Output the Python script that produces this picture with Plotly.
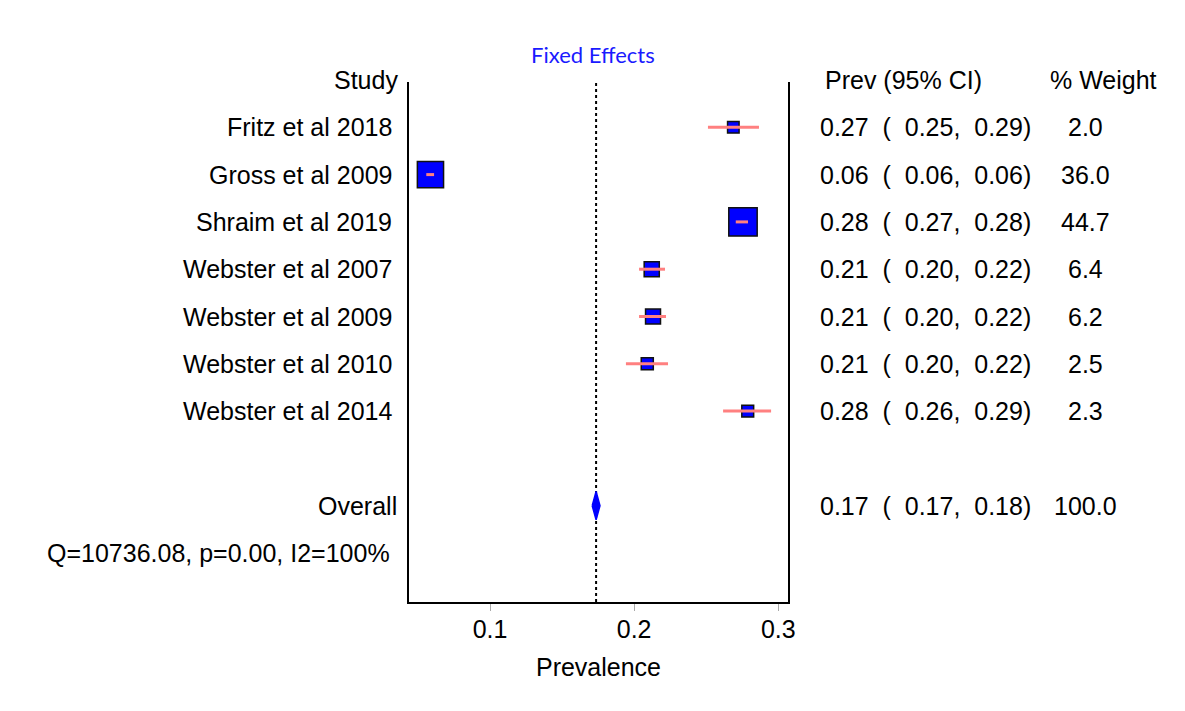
import plotly.graph_objects as go

# ---------------- data ----------------
studies = ["Fritz et al 2018", "Gross et al 2009", "Shraim et al 2019",
           "Webster et al 2007", "Webster et al 2009", "Webster et al 2010",
           "Webster et al 2014"]
prev = [0.2688, 0.0587, 0.2755, 0.2122, 0.2131, 0.2091, 0.2788]
ci_low = [0.2512, 0.0558, 0.2705, 0.2034, 0.2034, 0.1943, 0.2617]
ci_high = [0.2866, 0.0612, 0.2790, 0.2214, 0.2221, 0.2235, 0.2950]
weights = [2.0, 36.0, 44.7, 6.4, 6.2, 2.5, 2.3]

prev_text = ["0.27", "0.06", "0.28", "0.21", "0.21", "0.21", "0.28"]
low_text = ["0.25", "0.06", "0.27", "0.20", "0.20", "0.20", "0.26"]
high_text = ["0.29", "0.06", "0.28", "0.22", "0.22", "0.22", "0.29"]
weight_text = ["2.0", "36.0", "44.7", "6.4", "6.2", "2.5", "2.3"]

overall_prev = 0.1736
overall_low = 0.1709
overall_high = 0.1763
overall_texts = ["0.17", "0.17", "0.18"]
overall_weight_text = "100.0"
het_text = "Q=10736.08, p=0.00, I2=100%"

x_ticks = [0.1, 0.2, 0.3]
x_tick_labels = ["0.1", "0.2", "0.3"]

# ---------------- layout geometry ----------------
OFF = 8                      # page body margin
W, H = 1185 - 2 * OFF, 711 - 2 * OFF
L, R, T, B = 409, 788, 82, 602   # plot area in screen pixels
FONT = "Liberation Sans, Arial, sans-serif"
FS = 25
NB = "\u00a0"

def px(xpix):
    return (xpix - L) / (R - L)

def py(ypix):
    return (B - ypix) / (B - T)

row_px0, row_step = 80, 47.3
def rowpix(r):
    return row_px0 + row_step * r

rows = list(range(1, len(studies) + 1))
overall_row = len(studies) + 2
het_row = overall_row + 1

fig = go.Figure()

# study markers (size from weight)
sizes = [7 + 3.2 * (w ** 0.5) for w in weights]
fig.add_trace(go.Scatter(
    x=prev, y=rows, mode="markers",
    marker=dict(symbol="square", size=sizes, color="#0000FF", opacity=1,
                line=dict(color="#111111", width=1.5)),
    hoverinfo="skip", showlegend=False))

# confidence intervals (drawn on top of markers)
cx, cy = [], []
for lo, hi, r in zip(ci_low, ci_high, rows):
    cx += [lo, hi, None]
    cy += [r, r, None]
fig.add_trace(go.Scatter(
    x=cx, y=cy, mode="lines",
    line=dict(color="#FF8080", width=3),
    hoverinfo="skip", showlegend=False))

# overall diamond
h = 0.30
fig.add_trace(go.Scatter(
    x=[overall_low, overall_prev, overall_high, overall_prev, overall_low],
    y=[overall_row, overall_row - h, overall_row, overall_row + h, overall_row],
    mode="lines", fill="toself", fillcolor="#0000FF",
    line=dict(color="#0000FF", width=1.5),
    hoverinfo="skip", showlegend=False))

# pooled estimate dotted line
fig.add_shape(type="line", x0=overall_prev, x1=overall_prev, xref="x",
              y0=0, y1=1, yref="paper", layer="below",
              line=dict(color="black", width=2, dash="dot"))

ann = []
def text(xpix, ypix, s, anchor="left", size=FS, color="black", family=FONT):
    ann.append(dict(x=px(xpix), y=py(ypix), xref="paper", yref="paper", text=s,
                    showarrow=False, xanchor=anchor, yanchor="middle",
                    font=dict(family=family, size=size, color=color)))

text(400, rowpix(0), "Study", "right")
text(823, rowpix(0), "Prev (95% CI)")
text(1048, rowpix(0), "% Weight")
for i, r in enumerate(rows):
    text(394, rowpix(r), studies[i], "right")
    s = f"{prev_text[i]}{NB*2}({NB*2}{low_text[i]},{NB*2}{high_text[i]})"
    text(818, rowpix(r), s)
    text(1085, rowpix(r), weight_text[i], "center")
text(399, rowpix(overall_row), "Overall", "right")
s = f"{overall_texts[0]}{NB*2}({NB*2}{overall_texts[1]},{NB*2}{overall_texts[2]})"
text(818, rowpix(overall_row), s)
text(1085, rowpix(overall_row), overall_weight_text, "center")
text(45, rowpix(het_row), het_text)
text(592.5, 55, "Fixed Effects", "center", size=22, color="#1a1aff",
     family="Lato, Open Sans, sans-serif")

y_top = (T - row_px0) / row_step
y_bot = (B - row_px0) / row_step

fig.update_layout(
    width=W, height=H,
    margin=dict(l=L - OFF, r=W - (R - OFF), t=T - OFF, b=H - (B - OFF),
                autoexpand=False),
    plot_bgcolor="white", paper_bgcolor="white",
    annotations=ann,
    font=dict(family=FONT, size=FS, color="black"),
    xaxis=dict(range=[0.04381, 0.30673], tickvals=x_ticks, ticktext=x_tick_labels,
               ticks="outside", ticklen=7, tickcolor="#aaaaaa", tickwidth=1,
               showline=True, linecolor="black", linewidth=2,
               showgrid=False, zeroline=False, ticklabelstandoff=-3,
               tickfont=dict(family=FONT, size=FS, color="black"),
               title=dict(text="Prevalence", standoff=16,
                          font=dict(family=FONT, size=FS, color="black"))),
    yaxis=dict(range=[y_bot, y_top], showticklabels=False, ticks="",
               showline=True, mirror=True, linecolor="black", linewidth=2,
               showgrid=False, zeroline=False),
)

fig.write_html("out.html")
